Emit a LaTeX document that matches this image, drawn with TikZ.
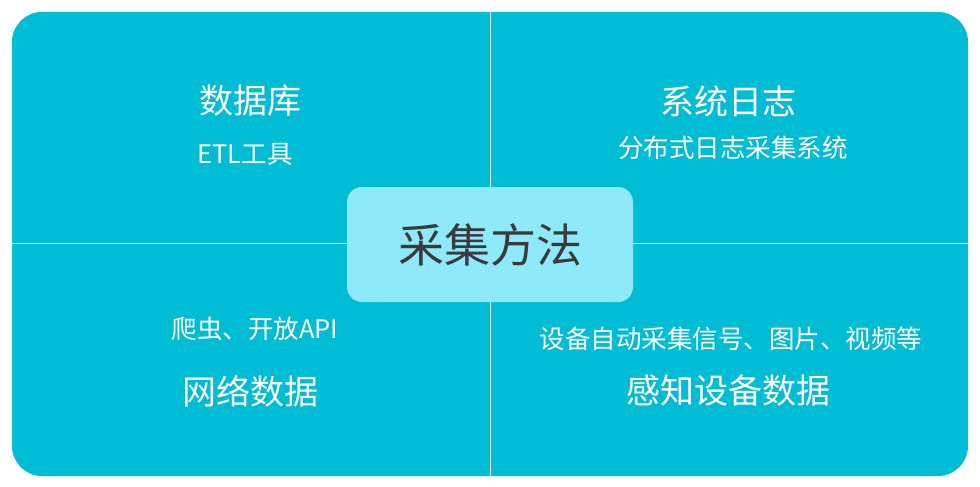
\documentclass[tikz,border=0pt]{standalone}
\usepackage{fontspec}
\setmainfont{Noto Sans CJK SC}
\usetikzlibrary{positioning}

\definecolor{panelcyan}{HTML}{00BCD4}
\definecolor{boxcyan}{HTML}{8EE9FB}
\definecolor{darktext}{HTML}{3A3A3A}

\tikzset{
  title/.style={text=white, font=\fontsize{34}{38}\selectfont, inner sep=0pt},
  detail/.style={text=white, font=\fontsize{25.5}{29}\selectfont, inner sep=0pt},
  divider/.style={draw=white!85!panelcyan, line width=0.9pt}
}

\begin{document}
\begin{tikzpicture}[x=1pt,y=-1pt]
    \useasboundingbox (0,0) rectangle (980,487);

    %Panel
    \fill[panelcyan, rounded corners=30pt] (12,12) rectangle (968,476);

    \coordinate (top) at (490,12);
    \coordinate (bottom) at (490,476);
    \coordinate (left) at (12,243);
    \coordinate (right) at (968,243);
    \path[divider] (top) -- (bottom);
    \path[divider] (left) -- (right);

    %Centre
    \node[fill=boxcyan, rounded corners=15pt, minimum width=286pt, minimum height=115pt,
          text=darktext, font=\fontsize{46}{50}\selectfont,
          path picture={
            \foreach \gx in {362,402,...,622}
              \draw[boxcyan!40!panelcyan, line width=0.8pt, dash pattern=on 1pt off 5pt] (\gx,187) -- (\gx,302);
            \foreach \gy in {193,228,263,298}
              \draw[boxcyan!40!panelcyan, line width=0.8pt, dash pattern=on 1pt off 5pt] (347,\gy) -- (633,\gy);
          }] (method) at (490,244.5) {采集方法};

    %Top left
    \node[title] (db) at (250,101) {数据库};
    \node[detail] (etl) at (245,154) {ETL工具};

    %Top right
    \node[title] (log) at (728,101) {系统日志};
    \node[detail] (logsys) at (733,148) {分布式日志采集系统};

    %Bottom left
    \node[detail] (crawl) at (255,329) {爬虫、开放API};
    \node[title] (web) at (250,391) {网络数据};

    %Bottom right
    \node[detail] (sensor) at (731,339) {设备自动采集信号、图片、视频等};
    \node[title] (device) at (728,391) {感知设备数据};
\end{tikzpicture}
\end{document}
